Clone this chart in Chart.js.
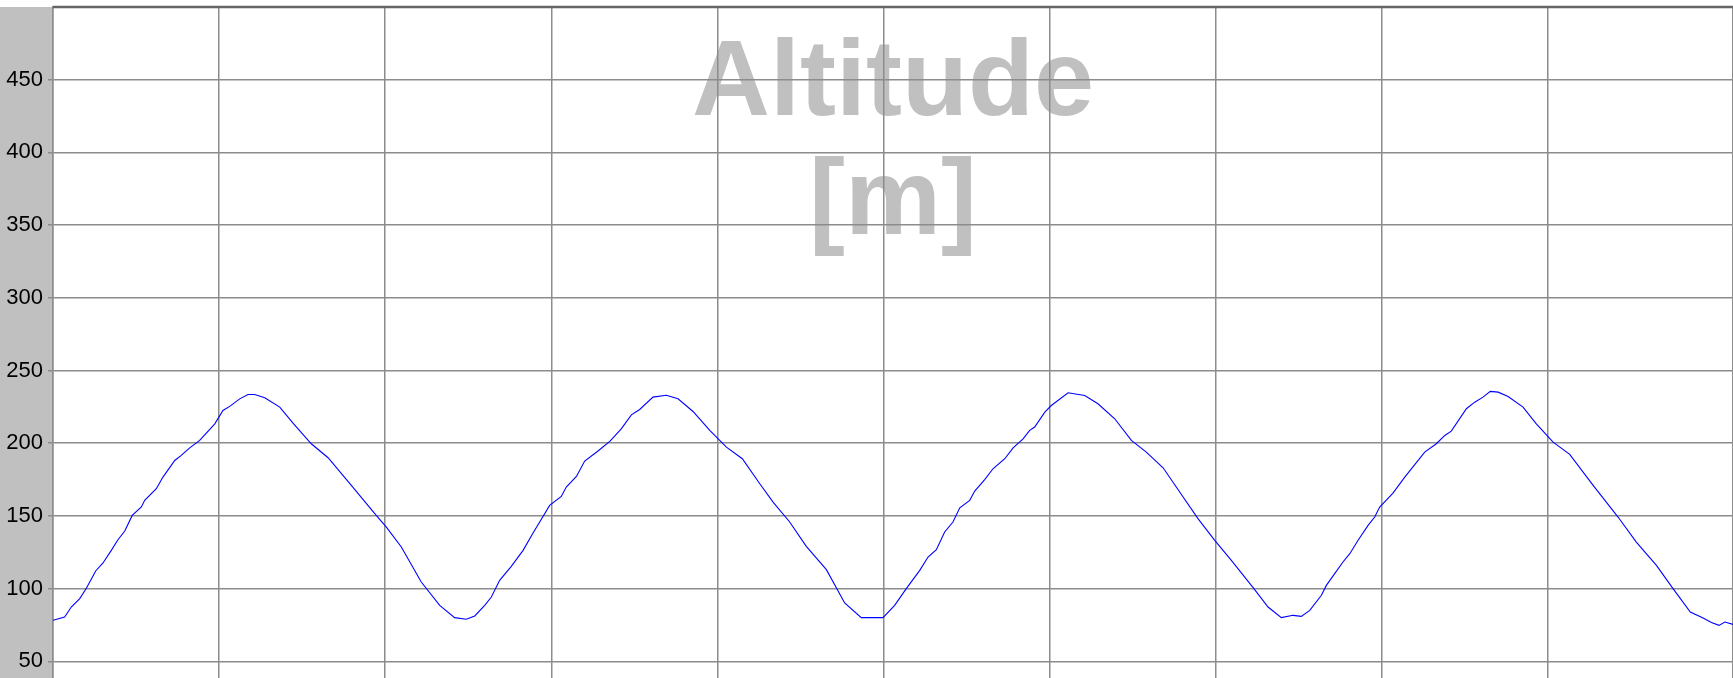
<!DOCTYPE html>
<html>
<head>
<meta charset="utf-8">
<script src="https://cdn.jsdelivr.net/npm/chart.js@4"></script>
<style>
  html, body { margin: 0; padding: 0; background: #fff; }
  #box { width: 1733px; height: 678px; position: relative; }
</style>
</head>
<body>
<div id="box"><canvas id="grafico"></canvas></div>
<script>
// distance along the track (one grid column = 1 unit)
const distance = [
  0, 0.070, 0.110, 0.161, 0.200, 0.257, 0.301, 0.351, 0.391, 0.432, 0.477, 0.532, 0.552,
  0.622, 0.662, 0.733, 0.772, 0.823, 0.883, 0.974, 1.023, 1.064, 1.124, 1.174, 1.214,
  1.275, 1.365, 1.445, 1.555, 1.656, 1.796, 1.946, 2.007, 2.097, 2.217, 2.328, 2.418,
  2.488, 2.539, 2.599, 2.639, 2.689, 2.759, 2.830, 2.890, 2.930, 2.990, 3.060, 3.090,
  3.151, 3.201, 3.281, 3.352, 3.421, 3.482, 3.532, 3.612, 3.692, 3.763, 3.853, 3.954,
  4.054, 4.150, 4.255, 4.335, 4.435, 4.535, 4.656, 4.766, 4.866, 4.997, 5.067, 5.137,
  5.218, 5.268, 5.318, 5.368, 5.418, 5.459, 5.519, 5.549, 5.609, 5.659, 5.730, 5.780,
  5.840, 5.880, 5.910, 5.971, 6.010, 6.111, 6.211, 6.291, 6.392, 6.492, 6.582, 6.683,
  6.783, 6.893, 6.994, 7.094, 7.225, 7.315, 7.395, 7.465, 7.515, 7.566, 7.636, 7.666,
  7.716, 7.766, 7.807, 7.857, 7.917, 7.957, 7.987, 8.067, 8.138, 8.258, 8.328, 8.379,
  8.418, 8.509, 8.559, 8.609, 8.653, 8.700, 8.760, 8.850, 8.930, 9.031, 9.131, 9.272,
  9.422, 9.532, 9.653, 9.753, 9.857, 9.934, 9.984, 10.030, 10.065, 10.114
];

// altitude in metres
const altitude = [
  78.2, 80.5, 87.3, 93.1, 100.0, 112.1, 117.6, 126.3, 133.6, 139.6, 150.3, 156.1, 160.7,
  168.7, 176.7, 188.1, 191.6, 196.8, 201.9, 213.3, 222.5, 225.3, 230.5, 233.5, 233.5,
  231.2, 224.8, 213.8, 199.6, 190.0, 171.0, 150.3, 142.3, 128.6, 104.5, 88.5, 80.0,
  78.9, 81.2, 88.5, 94.2, 105.7, 115.3, 126.3, 138.2, 145.8, 157.2, 163.4, 169.8,
  177.1, 187.7, 194.6, 201.2, 209.9, 219.5, 223.2, 231.7, 233.0, 230.5, 221.8, 208.8,
  197.3, 189.3, 172.1, 159.5, 145.8, 129.0, 113.0, 90.1, 80.0, 80.0, 88.5, 100.0,
  112.5, 121.7, 126.7, 138.9, 145.8, 155.6, 160.7, 167.1, 174.9, 182.4, 189.3, 196.8,
  203.0, 208.8, 211.1, 221.4, 225.9, 234.7, 232.8, 227.1, 216.8, 201.9, 193.9, 183.1,
  166.4, 148.1, 133.2, 119.4, 100.6, 87.3, 80.0, 81.6, 80.9, 85.0, 95.4, 102.2,
  110.3, 118.3, 124.0, 133.2, 143.5, 149.2, 156.1, 165.7, 176.7, 193.9, 199.6, 205.3,
  208.3, 223.7, 228.2, 231.7, 235.6, 235.1, 232.1, 224.8, 213.3, 200.7, 192.3, 171.0,
  149.2, 132.0, 116.0, 100.0, 83.9, 79.8, 76.6, 74.7, 77.0, 75.4
];

// tick labels of the y axis
const yTicks = [50, 100, 150, 200, 250, 300, 350, 400, 450];

const titleLines = ["Altitude", "[m]"];

// grey strip + watermark title, drawn under the grid
const fundo = {
  id: "fundo",
  beforeDraw(chart) {
    const { ctx, chartArea } = chart;
    ctx.save();
    ctx.fillStyle = "#c0c0c0";
    ctx.fillRect(0, chartArea.top, chartArea.left, chart.height - chartArea.top);
    ctx.font = "bold 108px 'Liberation Sans', Arial, sans-serif";
    ctx.textAlign = "center";
    ctx.textBaseline = "alphabetic";
    const cx = (chartArea.left + chartArea.right) / 2;
    ctx.fillText(titleLines[0], cx, 115);
    ctx.fillText(titleLines[1], cx, 234);
    ctx.restore();
  },
  afterDraw(chart) {
    const { ctx, chartArea } = chart;
    ctx.save();
    ctx.strokeStyle = "#666";
    ctx.lineWidth = 2.5;
    ctx.beginPath();
    ctx.moveTo(chartArea.left, chartArea.top);
    ctx.lineTo(chartArea.right, chartArea.top);
    ctx.stroke();
    ctx.restore();
  },
};

function graphc() {
  const ctx = document.getElementById("grafico").getContext("2d");

  const data = {
    datasets: [
      {
        label: "Altitude",
        data: distance.map((d, i) => ({ x: d, y: altitude[i] })),
        borderColor: "#0000ff",
        borderWidth: 1.1,
        pointRadius: 0,
        tension: 0,
        fill: false,
      },
    ],
  };

  const config = {
    type: "line",
    data: data,
    plugins: [fundo],
    options: {
      responsive: true,
      maintainAspectRatio: false,
      animation: false,
      layout: { padding: { top: 7, right: 0, bottom: 0, left: 0 } },
      plugins: {
        legend: { display: false },
        tooltip: { enabled: false },
      },
      scales: {
        x: {
          type: "linear",
          min: 0,
          max: 10.114,
          ticks: { display: false, stepSize: 1 },
          grid: { color: "#8c8c8c", lineWidth: 1.5, drawTicks: false },
          border: { display: false },
          afterFit(scale) {
            scale.height = 0;
            scale.paddingLeft = 0;
            scale.paddingRight = 0;
          },
        },
        y: {
          min: 38.5,
          max: 500,
          afterBuildTicks(scale) {
            scale.ticks = yTicks.map((v) => ({ value: v }));
          },
          afterFit(scale) {
            scale.width = 53;
            scale.paddingTop = 0;
            scale.paddingBottom = 0;
          },
          ticks: {
            color: "#000",
            padding: 5,
            font: { family: "'Liberation Sans', Arial, sans-serif", size: 22 },
          },
          grid: { color: "#8c8c8c", lineWidth: 1.5, tickLength: 5 },
          border: { color: "#8c8c8c", width: 1.5 },
        },
      },
    },
  };

  new Chart(ctx, config);
}

graphc();
</script>
</body>
</html>
